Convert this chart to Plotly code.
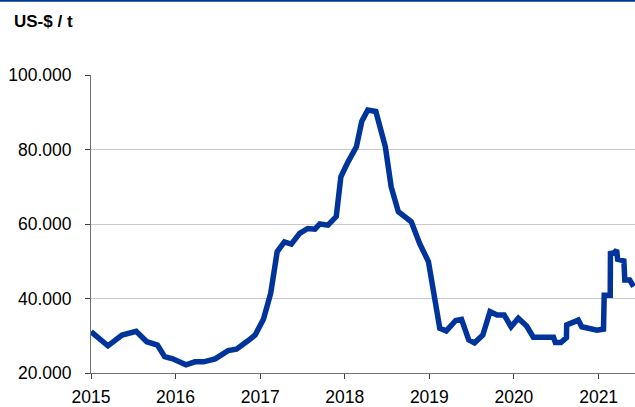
import plotly.graph_objects as go

# Data (US-$ per tonne)
dates = [
    "2015-01-01", "2015-03-15", "2015-05-15", "2015-07-15", "2015-08-30", "2015-09-25",
    "2015-10-15", "2015-11-15", "2015-12-20", "2016-02-15", "2016-03-25", "2016-05-01",
    "2016-06-20", "2016-08-15", "2016-09-20", "2016-11-10", "2016-12-10", "2017-01-15",
    "2017-02-15", "2017-03-15", "2017-04-15", "2017-05-15", "2017-06-20", "2017-07-25",
    "2017-08-25", "2017-09-15", "2017-10-20", "2017-11-25", "2017-12-15", "2018-01-15",
    "2018-02-20", "2018-03-15", "2018-04-10", "2018-05-15", "2018-06-25", "2018-07-20",
    "2018-08-20", "2018-10-15", "2018-11-20", "2018-12-28", "2019-02-15", "2019-03-15",
    "2019-04-25", "2019-05-20", "2019-06-20", "2019-07-15", "2019-08-20", "2019-09-20",
    "2019-10-20", "2019-11-20", "2019-12-20", "2020-01-20", "2020-02-25", "2020-03-25",
    "2020-06-20", "2020-06-28", "2020-07-22", "2020-08-15", "2020-08-16", "2020-09-20",
    "2020-10-05", "2020-10-20", "2020-11-25", "2020-12-25", "2021-01-22", "2021-01-25",
    "2021-02-20", "2021-02-21", "2021-03-10", "2021-03-20", "2021-03-24", "2021-04-20",
    "2021-04-24", "2021-05-15", "2021-06-01",
]
prices = [
    31100, 27300, 30200, 31200, 28400, 27700,
    27500, 24400, 23800, 22200, 23000, 23000,
    23800, 26000, 26400, 28700, 30200, 34500,
    41400, 52600, 55200, 54600, 57500, 58800,
    58600, 60000, 59700, 62000, 72700, 76700,
    80700, 87500, 90600, 90200, 80700, 70000,
    63300, 60600, 54800, 49900, 32000, 31300,
    34100, 34400, 28900, 28100, 30200, 36500,
    35600, 35600, 32400, 34700, 32600, 29600,
    29600, 28200, 28200, 29500, 32900, 33800,
    34200, 32400, 32000, 31500, 31800, 40900,
    40900, 52100, 52300, 53000, 50500, 50100,
    45000, 45000, 43200,
]
y_ticks = [20000, 40000, 60000, 80000, 100000]
title_text = "US-$ / t"

fig = go.Figure()
fig.add_trace(go.Scatter(
    x=dates, y=prices, mode="lines",
    line=dict(color="#00349a", width=5.5),
    hoverinfo="x+y", showlegend=False,
))

fig.update_layout(
    width=635, height=407,
    margin=dict(l=91, r=0, t=75, b=34),
    paper_bgcolor="white", plot_bgcolor="white",
    separators=",.",
    font=dict(family="Liberation Sans, Arial, sans-serif", size=17.5, color="#000000"),
    xaxis=dict(
        type="date", range=["2015-01-01", "2021-06-07"],
        tick0="2015-01-01", dtick="M12", tickformat="%Y",
        showgrid=False, showline=True, linecolor="#707070", linewidth=1,
        ticks="outside", ticklen=5, tickcolor="#404040",
        ticklabelstandoff=3,
        zeroline=False,
    ),
    yaxis=dict(
        range=[20000, 100000], tickvals=y_ticks, tickformat=",.0f",
        showgrid=True, gridcolor="#c8c8c8", gridwidth=1,
        showline=True, linecolor="#707070", linewidth=1,
        ticks="outside", ticklen=5, tickcolor="#404040",
        ticklabelstandoff=10,
        zeroline=False,
    ),
    annotations=[dict(
        text=f"<b>{title_text}</b>", xref="paper", yref="paper",
        x=(12 - 91) / 544, y=(373 - 22) / 298, xanchor="left", yanchor="middle",
        showarrow=False, font=dict(size=17, color="#000000"),
    )],
    shapes=[dict(
        type="line", xref="paper", yref="paper",
        x0=-91 / 544, x1=1.0, y0=(373 - 0.8) / 298, y1=(373 - 0.8) / 298,
        line=dict(color="#00349a", width=2),
    )],
)

fig.write_html("out.html")
